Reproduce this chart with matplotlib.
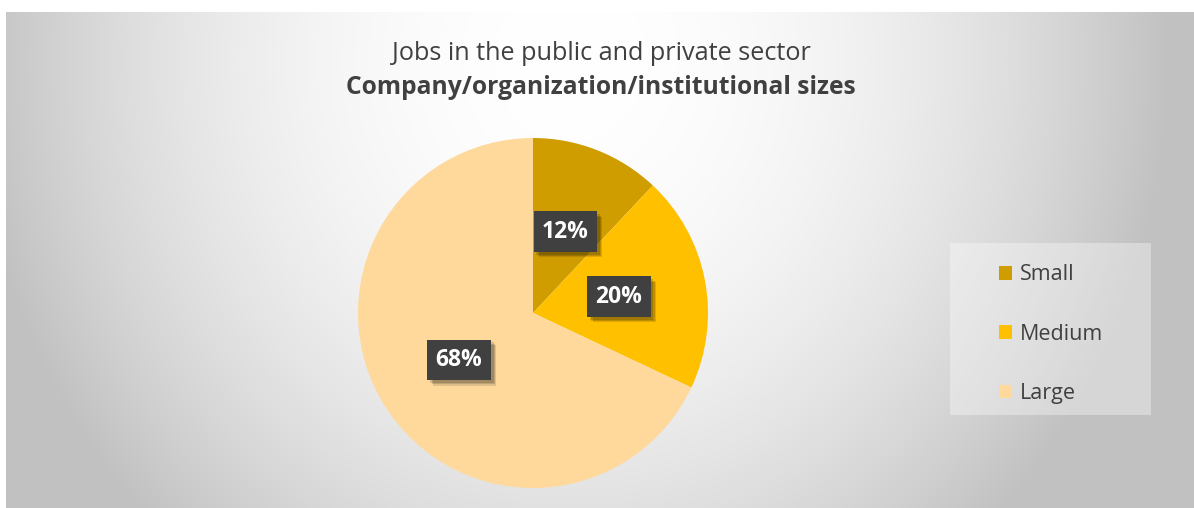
import numpy as np
import matplotlib
matplotlib.use("Agg")
import matplotlib.pyplot as plt
from matplotlib import patheffects
from matplotlib.patches import Rectangle

# data
categories = ["Small", "Medium", "Large"]
shares = [12, 20, 68]
colors = ["#D09D00", "#FFC000", "#FFD99C"]
title_line1 = "Jobs in the public and private sector"
title_line2 = "Company/organization/institutional sizes"

plt.rcParams["font.family"] = ["Open Sans", "DejaVu Sans"]

W, H = 1194, 508
fig = plt.figure(figsize=(W / 100, H / 100), dpi=100)
fig.patch.set_facecolor("white")

# radial gradient background of the chart area
x0, y0 = 6, 12
bg = fig.add_axes([x0 / W, 0, (W - x0) / W, (H - y0) / H])
bg.set_axis_off()
xx, yy = np.meshgrid(np.arange(x0, W), np.arange(y0, H))
d2 = ((xx - 570) / 600.0) ** 2 + ((yy - 60) / 650.0) ** 2
val = 255 - 62 * np.clip(d2, 0, 1)
img = np.dstack([val, val, val]) / 255.0
bg.imshow(img, aspect="auto", extent=(0, 1, 0, 1), origin="upper")
bg.set_xlim(0, 1)
bg.set_ylim(0, 1)

# pie
cx, cy, r = 533, 313, 175
ax = fig.add_axes([(cx - r) / W, (H - cy - r) / H, 2 * r / W, 2 * r / H])
wedges, texts, autotexts = ax.pie(
    shares, colors=colors, startangle=90, counterclock=False,
    autopct=lambda p: f"{p:.0f}%", pctdistance=0.5,
    wedgeprops=dict(linewidth=0),
)
ax.set_xlim(-1, 1)
ax.set_ylim(-1, 1)
ax.set_aspect("equal")
for t in autotexts:
    t.set_color("white")
    t.set_fontsize(16.5)
    t.set_fontweight("bold")
    t.set_bbox(dict(boxstyle="square,pad=0.36", facecolor="#404040", edgecolor="none"))
    t.get_bbox_patch().set_path_effects([
        patheffects.withSimplePatchShadow(offset=(4, -4), shadow_rgbFace="#000000", alpha=0.12),
        patheffects.withSimplePatchShadow(offset=(3, -3), shadow_rgbFace="#000000", alpha=0.15),
        patheffects.withSimplePatchShadow(offset=(2, -2), shadow_rgbFace="#000000", alpha=0.15),
        patheffects.Normal(),
    ])

# titles
fig.text(601 / W, 1 - 53 / H, title_line1, ha="center", va="center",
         fontsize=18.2, color="#404040")
fig.text(601 / W, 1 - 87 / H, title_line2, ha="center", va="center",
         fontsize=17.7, fontweight="bold", color="#404040")

# legend box
fig.patches.append(Rectangle((950 / W, 1 - 415 / H), 201 / W, 172 / H,
                             transform=fig.transFigure, facecolor="#FFFFFF",
                             alpha=0.35, edgecolor="none"))
leg = fig.legend(wedges, categories, loc="upper left",
                 bbox_to_anchor=(980 / W, 1 - 245 / H), frameon=False,
                 fontsize=15.5, labelspacing=1.78, handlelength=0.6,
                 handleheight=0.6, handletextpad=0.35, labelcolor="#404040")

fig.savefig("out.png", dpi=100)
